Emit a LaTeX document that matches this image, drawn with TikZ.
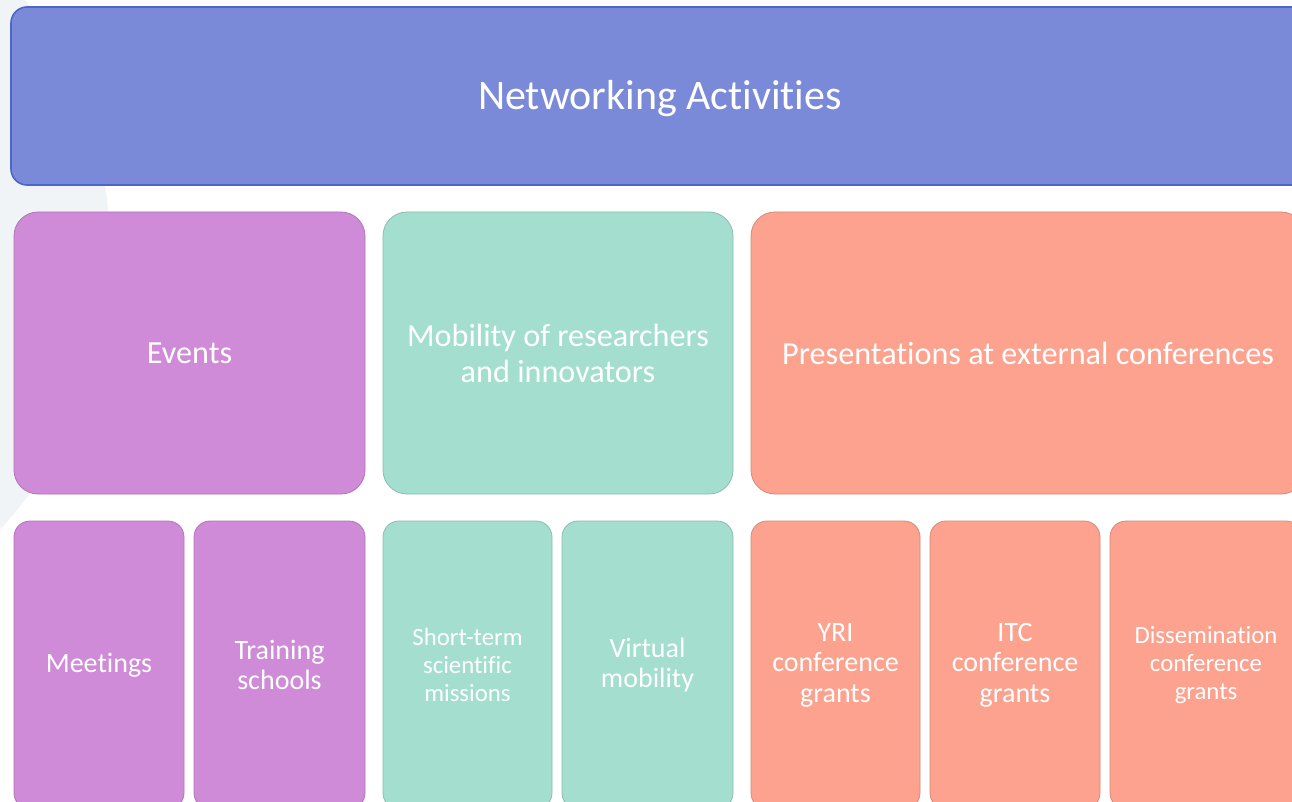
\documentclass[tikz,border=0pt]{standalone}
\usepackage{fontspec}
\setmainfont{Carlito}[Ligatures=NoCommon]
\usepackage{tikz}

\definecolor{netblue}{HTML}{7A8AD8}
\definecolor{netblueline}{HTML}{4C66C9}
\definecolor{evpurple}{HTML}{CF8AD8}
\definecolor{mobteal}{HTML}{A3DECF}
\definecolor{confsalmon}{HTML}{FCA28E}
\definecolor{bgcircle}{HTML}{F1F4F7}

\begin{document}
\begin{tikzpicture}
   [x=1pt,y=-1pt,
    box/.style={rounded corners=24pt,inner sep=0pt,text=white,align=center,
                minimum height=282pt,line width=0.8pt},
    subbox/.style={box,rounded corners=16pt,minimum height=288pt},
    bigfont/.style={font=\fontsize{32.2}{36}\selectfont},
    smallfont/.style={font=\fontsize{28}{30.5}\selectfont},
    tinyfont/.style={font=\fontsize{24.8}{28}\selectfont}]
   \useasboundingbox (0,0) rectangle (1292,802);
   \clip (0,0) rectangle (1292,802);
   \fill[white] (0,0) rectangle (1292,802);
   \fill[bgcircle] (-300,250) circle [radius=410];

   \node[box,rounded corners=16pt,fill=netblue,draw=netblueline,line width=1.6pt,
         minimum width=1298pt,minimum height=178pt,text depth=2pt,
         font=\fontsize{42}{48}\selectfont]
      (title) at (660,96) {Networking Activities};

   \begin{scope}[draw=evpurple!85!black]
      \node[box,bigfont,fill=evpurple,draw,minimum width=351pt] (events) at (189.5,353) {Events};
      \node[subbox,smallfont,fill=evpurple,draw,minimum width=170pt] (meetings) at (99,665) {Meetings};
      \node[subbox,smallfont,fill=evpurple,draw,minimum width=171pt] (training) at (279.5,665) {Training\\schools};
   \end{scope}

   \begin{scope}[draw=mobteal!85!black]
      \node[box,bigfont,fill=mobteal,draw,minimum width=350pt] (mobility) at (558,353)
         {Mobility of researchers\\and innovators};
      \node[subbox,tinyfont,fill=mobteal,draw,minimum width=169pt] (stsm) at (467.5,665)
         {Short-term\\scientific\\missions};
      \node[subbox,smallfont,fill=mobteal,draw,minimum width=171pt] (virtual) at (647.5,665)
         {Virtual\\mobility};
   \end{scope}

   \begin{scope}[draw=confsalmon!85!black]
      \node[box,bigfont,fill=confsalmon,draw,minimum width=554pt] (presentations) at (1028,353)
         {Presentations at external conferences};
      \node[subbox,smallfont,fill=confsalmon,draw,minimum width=169pt] (yri) at (835.5,665)
         {YRI\\conference\\grants};
      \node[subbox,smallfont,fill=confsalmon,draw,minimum width=170pt] (itc) at (1015,665)
         {ITC\\conference\\grants};
      \node[subbox,tinyfont,fill=confsalmon,draw,minimum width=192pt] (dissemination) at (1206,665)
         {Dissemination\\conference\\grants};
   \end{scope}
\end{tikzpicture}
\end{document}
